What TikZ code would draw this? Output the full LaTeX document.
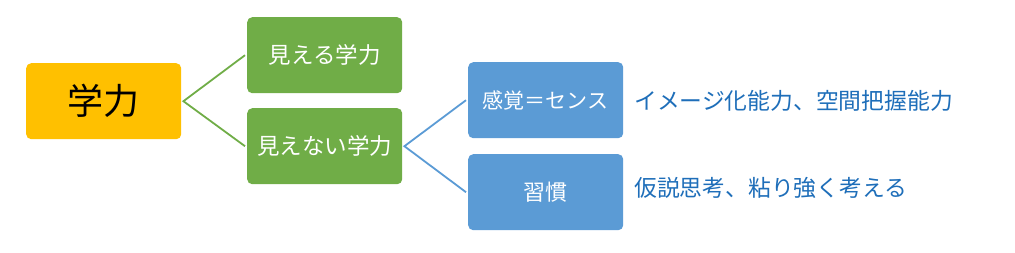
\documentclass[tikz,border=0pt]{standalone}
\usepackage{fontspec}
\setmainfont{Noto Sans CJK JP}
\definecolor{gold}{HTML}{FFC000}
\definecolor{leaf}{HTML}{70AD47}
\definecolor{sky}{HTML}{5B9BD5}
\definecolor{ink}{RGB}{30,110,185}
\begin{document}
\begin{tikzpicture}[x=1pt,y=-1pt,
  box/.style={rounded corners=5pt, minimum width=155pt, minimum height=76pt, inner sep=0pt, anchor=north west},
  goldbox/.style={box, fill=gold, font=\fontsize{36}{42}\selectfont, text=black},
  greenbox/.style={box, fill=leaf, font=\fontsize{22.5}{27}\selectfont, text=white},
  bluebox/.style={box, fill=sky, font=\fontsize{21}{25}\selectfont, text=white},
  gline/.style={draw=leaf, line width=1.8pt},
  bline/.style={draw=sky, line width=1.8pt},
  note/.style={anchor=west, text=ink, inner sep=0pt, font=\fontsize{22.8}{27}\selectfont}]
\useasboundingbox (0,0) rectangle (1015,252);
\node[goldbox] (root) at (26,63) {学力};
\node[greenbox] (vis) at (247,17) {見える学力};
\node[greenbox] (invis) at (247,108) {見えない学力};
\node[bluebox] (sense) at (468,62) {感覚＝センス};
\node[bluebox, font=\fontsize{22}{26}\selectfont] (habit) at (468,154) {習慣};
\node[note] (n1) at (634,101) {イメージ化能力、空間把握能力};
\node[note] (n2) at (634,188) {仮説思考、粘り強く考える};
\coordinate (r) at ([xshift=2pt]root.east);
\coordinate (iv) at ([xshift=2pt]invis.east);
\draw[gline] ([xshift=-2pt]vis.west) -- (r) -- ([xshift=-2pt]invis.west);
\draw[bline] ([xshift=-2pt]sense.west) -- (iv) -- ([xshift=-2pt]habit.west);
\end{tikzpicture}
\end{document}
